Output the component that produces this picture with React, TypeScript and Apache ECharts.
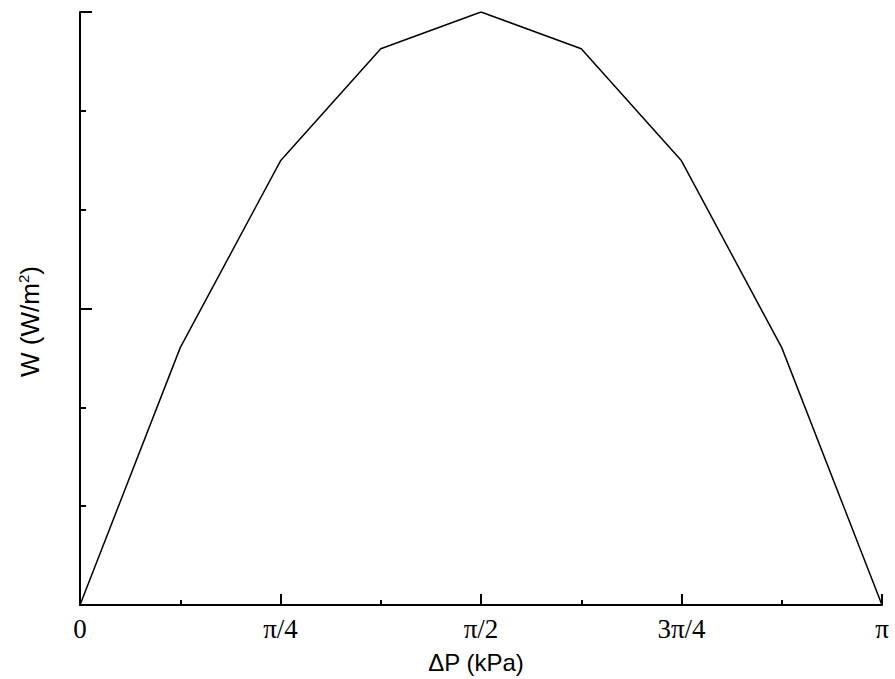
import React, { useEffect, useRef } from "react";
import * as echarts from "echarts";

// x positions in multiples of π
const xPi = [0, 0.125, 0.25, 0.375, 0.5, 0.625, 0.75, 0.875, 1];
const wValues = [0, 0.434, 0.749, 0.938, 1, 0.938, 0.749, 0.434, 0];
const xTickLabels: Record<string, string> = {
  "0": "0",
  "0.25": "π/4",
  "0.5": "π/2",
  "0.75": "3π/4",
  "1": "π",
};

export default function App() {
  const ref = useRef<HTMLDivElement>(null);
  useEffect(() => {
    if (!ref.current) return;
    const chart = echarts.init(ref.current, null, { renderer: "svg" });
    chart.setOption({
      animation: false,
      backgroundColor: "#ffffff",
      grid: { left: 80, top: 12, right: 13, bottom: 73, containLabel: false },
      xAxis: {
        type: "value",
        min: 0,
        max: 1,
        interval: 0.25,
        name: "ΔP (kPa)",
        nameLocation: "middle",
        nameGap: 45,
        nameTextStyle: { fontFamily: "Liberation Sans", fontSize: 24, lineHeight: 24, color: "#000", padding: [0, 10, 0, 0] },
        axisLine: { show: true, onZero: false, lineStyle: { color: "#000", width: 2 } },
        axisTick: { show: true, inside: true, length: 11, lineStyle: { color: "#000", width: 2 } },
        minorTick: { show: true, splitNumber: 2, length: 5, lineStyle: { color: "#000", width: 2 } },
        axisLabel: {
          margin: 10,
          fontFamily: "Liberation Serif",
          fontSize: 27,
          color: "#000",
          formatter: (v: number) => xTickLabels[String(Math.round(v * 1000) / 1000)] ?? "",
        },
        splitLine: { show: false },
      },
      yAxis: {
        type: "value",
        min: 0,
        max: 1,
        interval: 0.5,
        name: "W (W/m{sup|2})",
        nameLocation: "middle",
        nameGap: 37,
        nameRotate: 90,
        nameTextStyle: {
          fontFamily: "Liberation Sans",
          fontSize: 26,
          color: "#000",
          padding: [0, 26, 0, 0],
          rich: {
            sup: { fontFamily: "Liberation Sans", fontSize: 15, color: "#000", padding: [0, 0, 12, 0] },
          },
        },
        axisLine: { show: true, onZero: false, lineStyle: { color: "#000", width: 2 } },
        axisTick: { show: true, inside: true, length: 12, lineStyle: { color: "#000", width: 2 } },
        minorTick: { show: true, splitNumber: 3, length: 6, lineStyle: { color: "#000", width: 2 } },
        axisLabel: { show: false },
        splitLine: { show: false },
      },
      series: [
        {
          type: "line",
          data: xPi.map((x, i) => [x, wValues[i]]),
          symbol: "none",
          lineStyle: { color: "#000", width: 1.5 },
        },
      ],
    });
    return () => chart.dispose();
  }, []);
  return (
    <div
      ref={ref}
      style={{ width: 895, height: 679, position: "absolute", left: 0, top: 0, overflow: "hidden" }}
    />
  );
}
